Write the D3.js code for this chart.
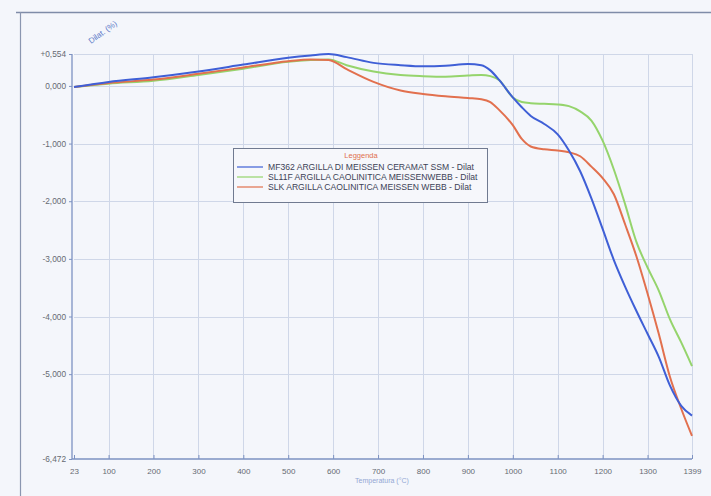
<!DOCTYPE html>
<html>
<head>
<meta charset="utf-8">
<script src="https://cdn.jsdelivr.net/npm/d3@7"></script>
<style>
  html, body { margin: 0; padding: 0; background: #f4f6fb; }
  svg { display: block; }
</style>
</head>
<body>
<svg id="chart" width="711" height="496"></svg>
<script>
// ---- data ----
const temps = [23, 100, 200, 300, 400, 500, 550, 590, 630, 690, 750, 800, 850, 900, 930, 950, 970, 1000, 1020, 1040, 1070, 1100, 1125, 1150, 1175, 1200, 1225, 1250, 1275, 1300, 1325, 1350, 1375, 1399];
const seriesNames = [
  "MF362 ARGILLA DI MEISSEN CERAMAT SSM - Dilat",
  "SL11F ARGILLA CAOLINITICA MEISSENWEBB - Dilat",
  "SLK ARGILLA CAOLINITICA MEISSEN WEBB - Dilat"
];
const mf362 = [-0.02, 0.07, 0.15, 0.25, 0.37, 0.49, 0.53, 0.554, 0.50, 0.40, 0.36, 0.34, 0.35, 0.38, 0.36, 0.27, 0.10, -0.20, -0.37, -0.52, -0.66, -0.84, -1.12, -1.48, -1.95, -2.48, -3.02, -3.48, -3.90, -4.30, -4.70, -5.20, -5.55, -5.72];
const sl11f = [-0.02, 0.04, 0.09, 0.19, 0.30, 0.42, 0.45, 0.46, 0.36, 0.25, 0.19, 0.17, 0.16, 0.18, 0.19, 0.17, 0.10, -0.20, -0.28, -0.30, -0.31, -0.32, -0.35, -0.44, -0.60, -0.95, -1.45, -2.05, -2.70, -3.15, -3.55, -4.05, -4.45, -4.86];
const slk = [-0.02, 0.05, 0.11, 0.21, 0.32, 0.43, 0.46, 0.45, 0.29, 0.07, -0.08, -0.14, -0.18, -0.21, -0.23, -0.28, -0.42, -0.68, -0.92, -1.05, -1.10, -1.12, -1.15, -1.22, -1.40, -1.60, -1.88, -2.40, -2.95, -3.60, -4.30, -5.05, -5.60, -6.07];
const xTicks = [23, 100, 200, 300, 400, 500, 600, 700, 800, 900, 1000, 1100, 1200, 1300, 1399];
const yTicks = [0.554, 0, -1, -2, -3, -4, -5, -6.472];
const yTickLabels = ["+0,554", "0,000", "-1,000", "-2,000", "-3,000", "-4,000", "-5,000", "-6,472"];
const xGrid = [100, 200, 300, 400, 500, 600, 700, 800, 900, 1000, 1100, 1200, 1300, 1399];
const yGrid = [0.554, 0, -1, -2, -3, -4, -5];
const colors = ["#3f5fd6", "#95d46c", "#e2704e"];

// ---- chart ----
const svg = d3.select("#chart");
const x = d3.scaleLinear().domain([23, 1399]).range([74, 692]);
const y = d3.scaleLinear().domain([-6.472, 0.554]).range([459, 54]);
const font = "Liberation Sans, Arial, sans-serif";

// outer frame
svg.append("line").attr("x1", 16).attr("x2", 711).attr("y1", 12.5).attr("y2", 12.5)
  .attr("stroke", "#7f8ca8").attr("stroke-width", 1.5);
svg.append("line").attr("x1", 20.5).attr("x2", 20.5).attr("y1", 12).attr("y2", 496)
  .attr("stroke", "#8a96b0").attr("stroke-width", 1.2);

// grid
const grid = svg.append("g").attr("stroke", "#cfd7e8").attr("stroke-width", 1);
grid.selectAll("line.v").data(xGrid).join("line")
  .attr("x1", d => Math.round(x(d)) + 0.5).attr("x2", d => Math.round(x(d)) + 0.5)
  .attr("y1", y(0.554)).attr("y2", y(-6.472));
grid.selectAll("line.h").data(yGrid).join("line")
  .attr("x1", x(23)).attr("x2", x(1399))
  .attr("y1", d => Math.round(y(d)) + 0.5).attr("y2", d => Math.round(y(d)) + 0.5);

// axes
const xAxis = d3.axisBottom(x).tickValues(xTicks).tickSize(-4).tickPadding(9).tickFormat(d3.format("d"));
const gx = svg.append("g").attr("transform", `translate(0,${y(-6.472)})`).call(xAxis);
gx.select(".domain").attr("stroke", "#7d92c2").attr("stroke-width", 1.3).attr("d", `M${x(23) - 2},0H${x(1399)}`);
gx.selectAll(".tick line").attr("stroke", "#7d92c2");
gx.selectAll(".tick text").attr("fill", "#666a72").attr("font-size", 8).attr("font-family", font);

const yAxis = d3.axisLeft(y).tickValues(yTicks).tickSize(3).tickPadding(3)
  .tickFormat((d, i) => yTickLabels[i]);
const gy = svg.append("g").attr("transform", `translate(${x(23) - 2},0)`).call(yAxis);
gy.select(".domain").attr("stroke", "#7d92c2").attr("stroke-width", 1.3).attr("d", `M0,${y(0.554)}V${y(-6.472)}`);
gy.selectAll(".tick line").attr("stroke", "#7d92c2");
gy.selectAll(".tick text").attr("fill", "#666a72").attr("font-size", 8.3).attr("font-family", font);

// axis titles
svg.append("text").attr("transform", "translate(91,44) rotate(-36)")
  .attr("font-size", 8).attr("fill", "#5a78c8").attr("font-family", font)
  .text("Dilat. (%)");
svg.append("text").attr("x", 382).attr("y", 483).attr("text-anchor", "middle")
  .attr("font-size", 7).attr("fill", "#93a6d4").attr("font-family", font)
  .text("Temperatura (°C)");

// lines
const allSeries = [mf362, sl11f, slk];
const line = d3.line().x((d, i) => x(temps[i])).y(d => y(d)).curve(d3.curveMonotoneX);
[1, 2, 0].forEach(k => {
  svg.append("path").datum(allSeries[k]).attr("d", line)
    .attr("fill", "none").attr("stroke", colors[k]).attr("stroke-width", 2)
    .attr("stroke-linejoin", "round");
});

// legend
const lg = svg.append("g").attr("transform", "translate(233,148)");
lg.append("rect").attr("x", 0.5).attr("y", 0.5).attr("width", 254).attr("height", 54)
  .attr("fill", "#f6f7fb").attr("stroke", "#707a90").attr("stroke-width", 1);
lg.append("text").attr("x", 128).attr("y", 10).attr("text-anchor", "middle")
  .attr("font-size", 7.5).attr("fill", "#e0704e").attr("font-family", font)
  .text("Leggenda");
seriesNames.forEach((name, i) => {
  const yy = 19 + i * 10;
  lg.append("line").attr("x1", 4).attr("x2", 30).attr("y1", yy).attr("y2", yy)
    .attr("stroke", colors[i]).attr("stroke-width", 1.2);
  lg.append("text").attr("x", 35).attr("y", yy + 3).attr("font-size", 8.6)
    .attr("fill", "#3c4256").attr("font-family", font)
    .text(name);
});
</script>
</body>
</html>
